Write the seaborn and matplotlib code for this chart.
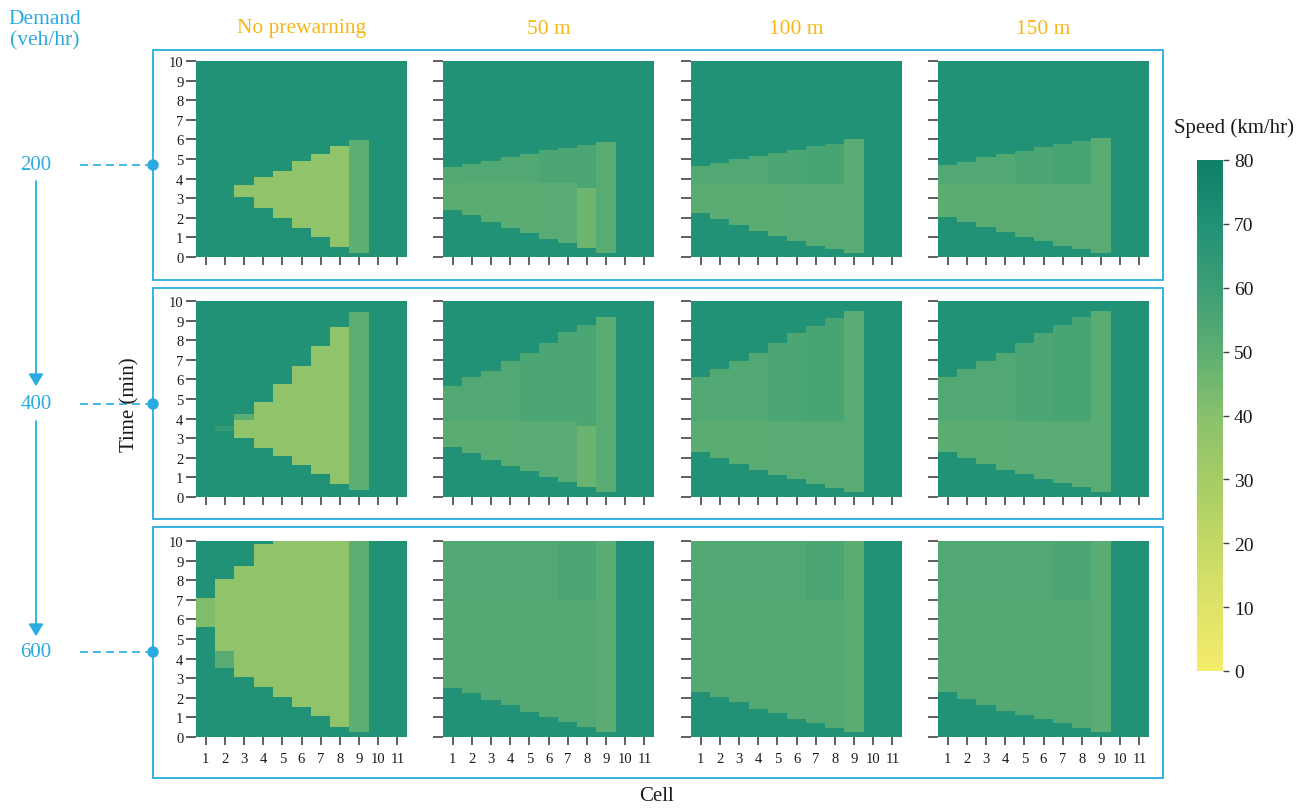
import numpy as np
import pandas as pd
import matplotlib
matplotlib.use("Agg")
import matplotlib.pyplot as plt
from matplotlib.colors import LinearSegmentedColormap
from matplotlib.patches import Rectangle, Polygon, Circle
import seaborn as sns

sns.set_theme(style="ticks")
plt.rcParams["font.family"] = ["Liberation Serif", "DejaVu Serif"]

nan = np.nan

# ---------------------------------------------------------------- data
SCENARIOS = ["No prewarning", "50 m", "100 m", "150 m"]
DEMANDS = [200, 400, 600]
CELLS = list(range(1, 12))
TIME_TICKS = list(range(0, 11))
SPEED_TICKS = list(range(0, 81, 10))
FREE_FLOW = 70.0

# queue onset / dissipation time (min) per cell, one row per scenario
start_200 = [
    [nan, nan, 3.05, 2.50, 2.00, 1.52, 1.02, 0.51, 0.22, nan, nan],
    [2.38, 2.13, 1.79, 1.48, 1.19, 0.90, 0.68, 0.43, 0.22, nan, nan],
    [2.24, 1.95, 1.64, 1.34, 1.07, 0.81, 0.56, 0.39, 0.22, nan, nan],
    [2.07, 1.81, 1.56, 1.31, 1.02, 0.80, 0.56, 0.39, 0.22, nan, nan],
]
end_200 = [
    [nan, nan, 3.65, 4.08, 4.42, 4.90, 5.27, 5.66, 5.95, nan, nan],
    [4.59, 4.76, 4.88, 5.10, 5.27, 5.44, 5.56, 5.70, 5.87, nan, nan],
    [4.66, 4.80, 5.00, 5.17, 5.31, 5.47, 5.64, 5.76, 6.02, nan, nan],
    [4.69, 4.86, 5.08, 5.25, 5.42, 5.59, 5.76, 5.88, 6.05, nan, nan],
]
split_200 = [
    [nan] * 11,
    [3.8, 3.8, 3.8, 3.8, 3.8, 3.8, 3.8, 3.5, nan, nan, nan],
    [3.7, 3.7, 3.7, 3.7, 3.7, 3.7, 3.7, 3.7, nan, nan, nan],
    [3.7, 3.7, 3.7, 3.7, 3.7, 3.7, 3.7, 3.7, nan, nan, nan],
]
speed_lo_200 = [
    [nan] * 11,
    [51, 51, 51, 51, 51, 52, 52, 46, nan, nan, nan],
    [51, 51, 51, 51, 51, 52, 52, 52, nan, nan, nan],
    [51, 51, 51, 51, 51, 52, 52, 52, nan, nan, nan],
]
speed_hi_200 = [
    [nan, nan, 37, 37, 37, 37, 37, 37, 50, nan, nan],
    [53, 54, 54, 54, 54, 55, 55, 55, 52, nan, nan],
    [54, 54, 54, 54, 55, 55, 56, 56, 52, nan, nan],
    [54, 54, 54, 54, 55, 55, 56, 56, 52, nan, nan],
]

start_400 = [
    [nan, 3.35, 3.02, 2.52, 2.09, 1.67, 1.16, 0.65, 0.34, nan, nan],
    [2.55, 2.26, 1.92, 1.58, 1.33, 1.02, 0.73, 0.48, 0.27, nan, nan],
    [2.30, 2.00, 1.72, 1.41, 1.12, 0.90, 0.65, 0.43, 0.27, nan, nan],
    [2.30, 2.00, 1.72, 1.41, 1.16, 0.90, 0.68, 0.48, 0.27, nan, nan],
]
end_400 = [
    [nan, 3.60, 4.25, 4.85, 5.75, 6.68, 7.70, 8.64, 9.46, nan, nan],
    [5.63, 6.09, 6.43, 6.94, 7.36, 7.87, 8.38, 8.78, 9.18, nan, nan],
    [6.09, 6.56, 6.94, 7.36, 7.87, 8.35, 8.72, 9.15, 9.52, nan, nan],
    [6.09, 6.56, 6.94, 7.36, 7.87, 8.35, 8.78, 9.18, 9.52, nan, nan],
]
split_400 = [
    [nan, nan, 3.95, nan, nan, nan, nan, nan, nan, nan, nan],
    [3.9, 3.9, 3.9, 3.9, 3.9, 3.9, 3.9, 3.6, nan, nan, nan],
    [3.9, 3.9, 3.9, 3.9, 3.9, 3.9, 3.9, 3.9, nan, nan, nan],
    [3.9, 3.9, 3.9, 3.9, 3.9, 3.9, 3.9, 3.9, nan, nan, nan],
]
speed_lo_400 = [
    [nan, nan, 37, nan, nan, nan, nan, nan, nan, nan, nan],
    [51, 51, 51, 51, 52, 52, 52, 47, nan, nan, nan],
    [51, 51, 51, 51, 52, 52, 52, 52, nan, nan, nan],
    [51, 51, 51, 51, 52, 52, 52, 52, nan, nan, nan],
]
speed_hi_400 = [
    [nan, 63, 50, 37, 37, 37, 37, 37, 50, nan, nan],
    [54, 54, 54, 54, 55, 55, 55, 55, 52, nan, nan],
    [54, 54, 54, 54, 55, 55, 56, 56, 52, nan, nan],
    [54, 54, 54, 54, 55, 55, 56, 56, 52, nan, nan],
]

start_600 = [
    [5.60, 3.50, 3.06, 2.55, 2.04, 1.53, 1.05, 0.51, 0.26, nan, nan],
    [2.50, 2.24, 1.92, 1.65, 1.31, 1.02, 0.77, 0.48, 0.26, nan, nan],
    [2.32, 2.03, 1.78, 1.44, 1.19, 0.90, 0.68, 0.46, 0.25, nan, nan],
    [2.32, 1.95, 1.66, 1.36, 1.10, 0.88, 0.68, 0.46, 0.25, nan, nan],
]
end_600 = [
    [7.10, 8.07, 8.76, 9.86, 10.0, 10.0, 10.0, 10.0, 10.0, nan, nan],
    [10.0, 10.0, 10.0, 10.0, 10.0, 10.0, 10.0, 10.0, 10.0, nan, nan],
    [10.0, 10.0, 10.0, 10.0, 10.0, 10.0, 10.0, 10.0, 10.0, nan, nan],
    [10.0, 10.0, 10.0, 10.0, 10.0, 10.0, 10.0, 10.0, 10.0, nan, nan],
]
split_600 = [
    [nan, 4.40, nan, nan, nan, nan, nan, nan, nan, nan, nan],
    [7.0, 7.0, 7.0, 7.0, 7.0, 7.0, 7.0, 7.0, nan, nan, nan],
    [7.0, 7.0, 7.0, 7.0, 7.0, 7.0, 7.0, 7.0, nan, nan, nan],
    [7.0, 7.0, 7.0, 7.0, 7.0, 7.0, 7.0, 7.0, nan, nan, nan],
]
speed_lo_600 = [
    [nan, 52, nan, nan, nan, nan, nan, nan, nan, nan, nan],
    [53, 53, 53, 53, 53, 53, 53, 53, nan, nan, nan],
    [53, 53, 53, 53, 53, 53, 53, 53, nan, nan, nan],
    [53, 53, 53, 53, 53, 53, 53, 53, nan, nan, nan],
]
speed_hi_600 = [
    [42, 37, 37, 37, 37, 37, 37, 37, 50, nan, nan],
    [53.5, 53.5, 53.5, 53.5, 54, 54, 55, 55, 51, nan, nan],
    [53.5, 53.5, 53.5, 53.5, 54, 54, 55, 55, 51, nan, nan],
    [53.5, 53.5, 53.5, 53.5, 54, 54, 55, 55, 51, nan, nan],
]

# colour scale (km/hr -> colour)
CMAP_STOPS = [0, 10, 20, 30, 40, 50, 60, 70, 80]
CMAP_COLORS = ["#f4ec6b", "#dee369", "#c4d966", "#a5cc65", "#88c16c",
               "#5eae72", "#3c9e75", "#229276", "#0e8068"]

# ---------------------------------------------------------------- helpers
DT = 0.05
N_ROWS = int(round(10 / DT))
T_MID = (np.arange(N_ROWS) + 0.5) * DT


def speed_field(start, end, split, lo, hi):
    grid = np.full((N_ROWS, len(CELLS)), FREE_FLOW)
    for j in range(len(CELLS)):
        if np.isnan(start[j]):
            continue
        in_q = (T_MID >= start[j]) & (T_MID < end[j])
        if np.isnan(split[j]):
            grid[in_q, j] = hi[j]
        else:
            grid[in_q & (T_MID < split[j]), j] = lo[j]
            grid[in_q & (T_MID >= split[j]), j] = hi[j]
    return pd.DataFrame(grid, index=np.round(T_MID, 3), columns=CELLS)


cmap = LinearSegmentedColormap.from_list(
    "speed", list(zip(np.array(CMAP_STOPS) / 80.0, CMAP_COLORS)))

TABLES = {
    200: (start_200, end_200, split_200, speed_lo_200, speed_hi_200),
    400: (start_400, end_400, split_400, speed_lo_400, speed_hi_400),
    600: (start_600, end_600, split_600, speed_lo_600, speed_hi_600),
}

# ---------------------------------------------------------------- figure
W, H = 1309, 812
fig = plt.figure(figsize=(W / 100, H / 100), dpi=100)
fig.patch.set_facecolor("white")

BLUE = "#29abe2"
GOLD = "#f6b616"
INK = "#1a1a1a"

COL_LEFT = [196, 443, 691, 938]
ROW_TOP = [62, 302, 542]
PW, PH = 211, 196

heat = None
for r, demand in enumerate(DEMANDS):
    tabs = TABLES[demand]
    for c, scen in enumerate(SCENARIOS):
        ax = fig.add_axes([COL_LEFT[c] / W, 1 - (ROW_TOP[r] + PH) / H, PW / W, PH / H])
        df = speed_field(*(t[c] for t in tabs))
        sns.heatmap(df, ax=ax, cmap=cmap, vmin=0, vmax=80, cbar=False,
                    xticklabels=False, yticklabels=False, rasterized=True)
        heat = ax.collections[0]
        ax.set_ylim(0, N_ROWS)
        ax.set_xlim(0, len(CELLS))
        ax.set_xlabel("")
        ax.set_ylabel("")
        ax.set_xticks(np.arange(len(CELLS)) + 0.5)
        ax.set_yticks([k / DT for k in TIME_TICKS])
        ax.set_xticklabels([str(v) for v in CELLS] if r == len(DEMANDS) - 1 else [])
        ax.set_yticklabels([str(v) for v in TIME_TICKS] if c == 0 else [])
        ax.tick_params(axis="x", length=6, width=1.1, color="#333333",
                       labelsize=10.5, labelcolor=INK, pad=5, rotation=0)
        ax.tick_params(axis="y", length=7, width=1.1, color="#333333",
                       labelsize=10.5, labelcolor=INK, pad=2, rotation=0)
        for s in ax.spines.values():
            s.set_visible(False)

# colour bar
cax = fig.add_axes([1197 / W, 1 - 672 / H, 26 / W, (672 - 161) / H])
cb = fig.colorbar(heat, cax=cax, ticks=SPEED_TICKS)
cb.outline.set_visible(False)
cax.tick_params(length=4, width=1.0, color="#444444", labelsize=14,
                labelcolor=INK, pad=4)

# overlay in pixel coordinates for annotations
ov = fig.add_axes([0, 0, 1, 1])
ov.set_xlim(0, W)
ov.set_ylim(H, 0)
ov.axis("off")
ov.patch.set_visible(False)

BOX_Y = [(51, 281), (289, 520), (528, 779)]
for y0, y1 in BOX_Y:
    ov.add_patch(Rectangle((153, y0), 1163 - 153, y1 - y0, fill=False,
                           edgecolor=BLUE, linewidth=1.3))

DOT_Y = [166, 405, 653]
for d, y in zip(DEMANDS, DOT_Y):
    ov.text(36, y, str(d), color=BLUE, fontsize=15, ha="center", va="center")
    ov.plot([80, 153], [y, y], color=BLUE, lw=1.2, ls=(0, (4.8, 3)))
    ov.add_patch(Circle((153, y), 5, color=BLUE, zorder=5))

# arrows between demand levels
for ya, yb in [(182, 386), (422, 636)]:
    ov.plot([36, 36], [ya, yb - 10], color=BLUE, lw=1.3)
    ov.add_patch(Polygon([[29.5, yb - 11], [42.5, yb - 11], [36, yb]],
                         closed=True, color=BLUE))

ov.text(45, 30, "Demand\n(veh/hr)", color=BLUE, fontsize=15.5,
        ha="center", va="center", linespacing=1.15)

for c, scen in enumerate(SCENARIOS):
    ov.text(COL_LEFT[c] + PW / 2, 29, scen, color=GOLD, fontsize=15.5,
            ha="center", va="center")

ov.text(130, 405, "Time (min)", color=INK, fontsize=15, rotation=90,
        ha="center", va="center")
ov.text(657, 797, "Cell", color=INK, fontsize=15, ha="center", va="center")
ov.text(1234, 128, "Speed (km/hr)", color=INK, fontsize=15,
        ha="center", va="center")

fig.savefig("out.png", dpi=100, facecolor="white")
